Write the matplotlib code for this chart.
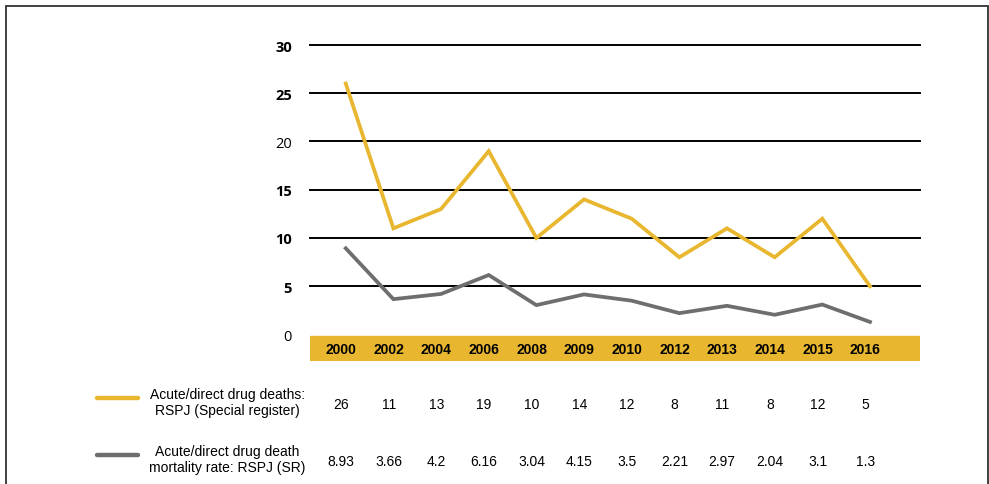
import matplotlib.pyplot as plt
import matplotlib.transforms as mtransforms
from matplotlib.patches import Rectangle

years = ['2000', '2002', '2004', '2006', '2008', '2009', '2010',
         '2012', '2013', '2014', '2015', '2016']
deaths = [26, 11, 13, 19, 10, 14, 12, 8, 11, 8, 12, 5]
rate = [8.93, 3.66, 4.2, 6.16, 3.04, 4.15, 3.5, 2.21, 2.97, 2.04, 3.1, 1.3]
deaths_labels = ['26', '11', '13', '19', '10', '14', '12', '8', '11', '8', '12', '5']
rate_labels = ['8.93', '3.66', '4.2', '6.16', '3.04', '4.15', '3.5', '2.21',
               '2.97', '2.04', '3.1', '1.3']
yticks = [0, 5, 10, 15, 20, 25, 30]
bold_ticks = [5, 10, 15, 25, 30]
legend_names = ['Acute/direct drug deaths:\nRSPJ (Special register)',
                'Acute/direct drug death\nmortality rate: RSPJ (SR)']

yellow = '#E8B72F'
grey = '#6E6E6E'

W, H = 989, 485
fig = plt.figure(figsize=(W / 100, H / 100), dpi=100)
plt.rcParams['font.family'] = ['Liberation Sans', 'DejaVu Sans']

# axes in pixel layout: x 310..920, y 46 (30) .. 362 (band bottom)
ax = fig.add_axes([310 / W, 1 - 362 / H, 610 / W, (362 - 46) / H])
ax.set_xlim(-0.75, 12.05)
ax.set_ylim(-2.75, 30)
for s in ax.spines.values():
    s.set_visible(False)
ax.set_xticks([])
ax.tick_params(axis='y', length=0, pad=13)

for t in yticks[1:]:
    ax.axhline(t, color='black', lw=1.4, zorder=1, clip_on=False)

# yellow category band
ax.axhspan(-2.75, -0.2, color=yellow, zorder=0)
x = list(range(len(years)))
for i, yr in enumerate(years):
    ax.text(i - 0.1, -1.5, yr, ha='center', va='center', fontsize=10,
            fontweight='bold', color='black')

ax.plot(x, deaths, color=yellow, lw=2.7, zorder=3, solid_joinstyle='miter')
ax.plot(x, rate, color=grey, lw=2.7, zorder=3, solid_joinstyle='miter')

ax.set_yticks(yticks)
ax.set_yticklabels([str(t) for t in yticks])
for lab, t in zip(ax.get_yticklabels(), yticks):
    lab.set_family(['Open Sans', 'DejaVu Sans'])
    if t in bold_ticks:
        lab.set_fontweight('bold')
        lab.set_fontsize(10.5)
    else:
        lab.set_fontsize(10.5)

# data table below
tr = mtransforms.blended_transform_factory(ax.transData, fig.transFigure)
for i in x:
    ax.text(i - 0.1, 1 - 405 / H, deaths_labels[i], transform=tr, ha='center',
            va='center', fontsize=10, clip_on=False)
    ax.text(i - 0.1, 1 - 462 / H, rate_labels[i], transform=tr, ha='center',
            va='center', fontsize=10, clip_on=False)

# legend keys
for ypix, col, name in [(399, yellow, legend_names[0]), (456, grey, legend_names[1])]:
    fig.add_artist(plt.Line2D([97 / W, 138 / W], [1 - ypix / H] * 2, color=col,
                              lw=3.2, solid_capstyle='round'))
    fig.text(227 / W, 1 - (ypix + 4) / H, name, ha='center', va='center',
             fontsize=10, linespacing=1.25)

# frame
fig.add_artist(Rectangle((6 / W, -0.05), 982 / W, 1.05 - 7 / H, transform=fig.transFigure,
                         fill=False, edgecolor='#333333', lw=1.3))

fig.savefig('out.png', dpi=100)
